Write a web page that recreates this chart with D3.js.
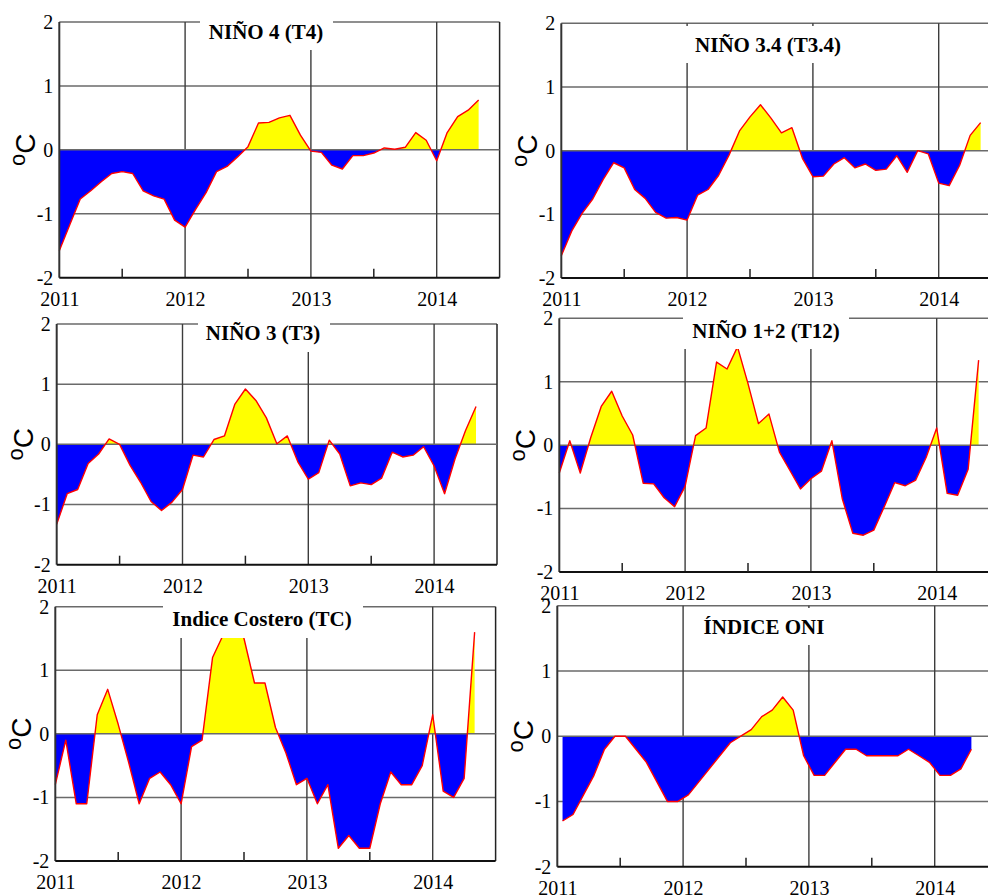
<!DOCTYPE html>
<html><head><meta charset="utf-8">
<script src="https://cdn.jsdelivr.net/npm/d3@7"></script>
<style>body{margin:0;background:#fff} svg{display:block}
.tick text{font-family:'Liberation Serif','Times New Roman',serif !important;font-size:20px !important;fill:#000}</style>
</head><body>
<svg id="c" width="988" height="895"></svg>
<script>
// ---- data ----
const yearLabels = [2011, 2012, 2013, 2014];
const halfYearTicks = [2011.5, 2012.5, 2013.5];
const yTickValues = [-2, -1, 0, 1, 2];
const titles = ["NIÑO 4 (T4)", "NIÑO 3.4 (T3.4)", "NIÑO 3 (T3)", "NIÑO 1+2 (T12)", "Indice Costero (TC)", "ÍNDICE ONI"];
const yUnit = "C";
// monthly anomalies Jan 2011 .. May 2014
const nino4 = [-1.58,-1.17,-0.77,-0.64,-0.5,-0.37,-0.34,-0.37,-0.64,-0.72,-0.77,-1.1,-1.21,-0.93,-0.67,-0.34,-0.26,-0.11,0.05,0.42,0.43,0.5,0.54,0.23,-0.02,-0.04,-0.24,-0.3,-0.09,-0.09,-0.05,0.03,0.01,0.04,0.27,0.15,-0.17,0.27,0.52,0.62,0.78];
const nino34 = [-1.65,-1.26,-0.98,-0.76,-0.45,-0.19,-0.27,-0.61,-0.75,-0.97,-1.06,-1.05,-1.09,-0.7,-0.61,-0.39,-0.07,0.31,0.53,0.72,0.51,0.28,0.36,-0.12,-0.41,-0.4,-0.21,-0.11,-0.27,-0.21,-0.31,-0.29,-0.08,-0.34,0.0,-0.05,-0.51,-0.55,-0.23,0.24,0.44];
const nino3 = [-1.33,-0.82,-0.75,-0.32,-0.16,0.09,0.0,-0.35,-0.63,-0.95,-1.1,-0.96,-0.75,-0.18,-0.21,0.08,0.14,0.67,0.92,0.73,0.44,0.01,0.14,-0.29,-0.58,-0.47,0.07,-0.16,-0.69,-0.64,-0.67,-0.56,-0.13,-0.21,-0.18,-0.04,-0.36,-0.82,-0.24,0.23,0.63];
const nino12 = [-0.44,0.07,-0.44,0.12,0.61,0.85,0.46,0.16,-0.6,-0.61,-0.83,-0.97,-0.65,0.15,0.27,1.31,1.2,1.55,0.97,0.34,0.49,-0.11,-0.4,-0.69,-0.53,-0.41,0.07,-0.85,-1.39,-1.42,-1.34,-0.97,-0.59,-0.64,-0.55,-0.19,0.27,-0.76,-0.79,-0.38,1.34];
const costero = [-0.8,-0.1,-1.1,-1.1,0.3,0.7,0.15,-0.45,-1.1,-0.7,-0.6,-0.8,-1.1,-0.2,-0.1,1.2,1.55,1.8,1.5,0.8,0.8,0.1,-0.3,-0.8,-0.7,-1.1,-0.8,-1.8,-1.6,-1.8,-1.8,-1.1,-0.6,-0.8,-0.8,-0.5,0.3,-0.9,-1.0,-0.7,1.6];
// ONI: running 3-month means, centred mid-month
const oni = [-1.3,-1.2,-0.9,-0.6,-0.2,0,0,-0.2,-0.4,-0.7,-1.0,-1.0,-0.9,-0.7,-0.5,-0.3,-0.1,0,0.1,0.3,0.4,0.6,0.4,-0.3,-0.6,-0.6,-0.4,-0.2,-0.2,-0.3,-0.3,-0.3,-0.3,-0.2,-0.3,-0.4,-0.6,-0.6,-0.5,-0.2];
const seriesList = [nino4, nino34, nino3, nino12, costero, oni];
const monthOffsets = [0, 0, 0, 0, 0, 0.5];

// ---- layout ----
const layout = [
  {left:59.3, top:22, bottom:277.7, box:[200,16,333,50], tx:266, ty:39},
  {left:561.3, top:23.3, bottom:278, box:[684,26,848,63], tx:768, ty:52},
  {left:56.7, top:324, bottom:564.7, box:[198,318,330,352], tx:263, ty:340},
  {left:559.3, top:318.3, bottom:572, box:[683,312,849,349], tx:766, ty:338},
  {left:55.3, top:606.7, bottom:861, box:[163,600,363,638], tx:262, ty:626},
  {left:557.3, top:605.7, bottom:866.7, box:[690,608,835,645], tx:764, ty:634}
];
const plotW = 440.3;

const svg = d3.select("#c");
const serif = "'Liberation Serif','Times New Roman',serif";

layout.forEach((L, pi) => {
  const vals = seriesList[pi];
  const off = monthOffsets[pi];
  const data = vals.map((v, i) => ({t: 2011 + (i + off) / 12, v}));
  const x = d3.scaleLinear().domain([2011, 2014.5]).range([L.left, L.left + plotW]);
  const y = d3.scaleLinear().domain([-2, 2]).range([L.bottom, L.top]);
  const g = svg.append("g");
  const right = L.left + plotW;

  g.selectAll("line.hg").data([1, -1, 2]).enter().append("line")
    .attr("x1", L.left).attr("x2", right)
    .attr("y1", d => y(d)).attr("y2", d => y(d))
    .attr("stroke", "#6a6a6a").attr("stroke-width", 1.5);
  g.selectAll("line.vg").data(yearLabels.slice(1)).enter().append("line")
    .attr("x1", d => x(d)).attr("x2", d => x(d))
    .attr("y1", y(2)).attr("y2", y(-2))
    .attr("stroke", "#3c3c3c").attr("stroke-width", 1.4);
  g.append("line").attr("x1", right).attr("x2", right).attr("y1", y(2)).attr("y2", y(-2))
    .attr("stroke", "#222").attr("stroke-width", 1.5);

  const cid = "cp" + pi;
  const defs = svg.append("defs");
  defs.append("clipPath").attr("id", cid + "a").append("rect")
    .attr("x", L.left - 5).attr("y", y(2) - 40).attr("width", plotW + 10).attr("height", y(0) - y(2) + 40);
  defs.append("clipPath").attr("id", cid + "b").append("rect")
    .attr("x", L.left - 5).attr("y", y(0)).attr("width", plotW + 10).attr("height", y(-2) - y(0));
  const area = d3.area().x(d => x(d.t)).y0(y(0)).y1(d => y(d.v));
  g.append("path").datum(data).attr("d", area).attr("fill", "#ffff00").attr("clip-path", `url(#${cid}a)`);
  g.append("path").datum(data).attr("d", area).attr("fill", "#0000ff").attr("clip-path", `url(#${cid}b)`);

  g.append("line").attr("x1", L.left).attr("x2", right).attr("y1", y(0)).attr("y2", y(0))
    .attr("stroke", "#6a6a6a").attr("stroke-width", 1.5);

  const line = d3.line().x(d => x(d.t)).y(d => y(d.v));
  g.append("path").datum(data).attr("d", line).attr("fill", "none")
    .attr("stroke", "#ff0000").attr("stroke-width", 1.4).attr("stroke-linejoin", "round");

  g.append("line").attr("x1", L.left).attr("x2", L.left).attr("y1", y(2)).attr("y2", y(-2))
    .attr("stroke", "#333").attr("stroke-width", 2);
  g.append("line").attr("x1", L.left).attr("x2", right).attr("y1", y(-2)).attr("y2", y(-2))
    .attr("stroke", "#111").attr("stroke-width", 2);
  g.selectAll("line.mt").data(halfYearTicks).enter().append("line")
    .attr("x1", d => x(d)).attr("x2", d => x(d))
    .attr("y1", y(-2)).attr("y2", y(-2) - 9)
    .attr("stroke", "#222").attr("stroke-width", 1.5);

  const b = L.box;
  g.append("rect").attr("x", b[0]).attr("y", b[1]).attr("width", b[2] - b[0]).attr("height", b[3] - b[1]).attr("fill", "#fff");
  g.append("text").attr("x", L.tx).attr("y", L.ty).attr("text-anchor", "middle")
    .style("font-family", serif).style("font-weight", "bold").style("font-size", "21px")
    .attr("fill", "#000").text(titles[pi]);

  const xa = g.append("g").attr("transform", `translate(0,${y(-2)})`)
    .call(d3.axisBottom(x).tickValues(yearLabels).tickFormat(d3.format("d")).tickSize(0).tickPadding(14));
  xa.select(".domain").remove();
  xa.attr("font-family", null).attr("font-size", null);
  const ya = g.append("g").attr("transform", `translate(${L.left},0)`)
    .call(d3.axisLeft(y).tickValues(yTickValues).tickFormat(d => String(d)).tickSize(0).tickPadding(6));
  ya.select(".domain").remove();
  ya.attr("font-family", null).attr("font-size", null);

  const ut = g.append("text")
    .attr("transform", `translate(${L.left - 24},${y(0)}) rotate(-90)`)
    .attr("text-anchor", "middle")
    .style("font-family", "'Liberation Sans',Arial,sans-serif").attr("fill", "#000");
  ut.append("tspan").style("font-size", "22px").attr("dy", -10).text("o");
  ut.append("tspan").style("font-size", "28px").attr("dy", 10).text(yUnit);
});
</script>
</body></html>
